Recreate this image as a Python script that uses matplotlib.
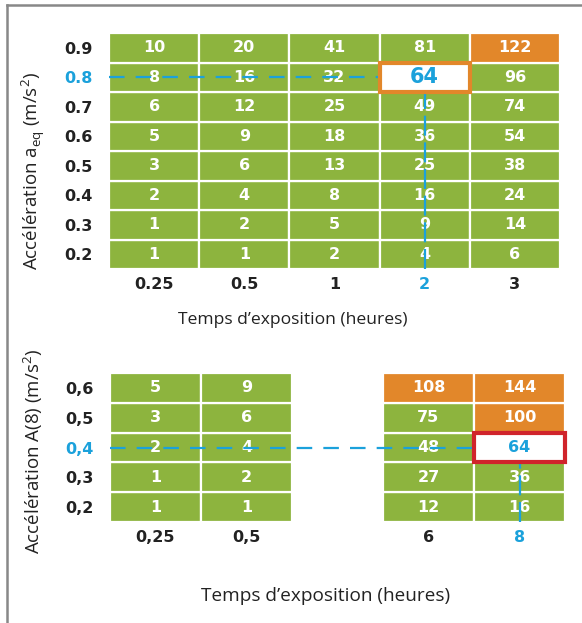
import matplotlib.pyplot as plt
from matplotlib.lines import Line2D
from matplotlib.patches import Rectangle

GREEN = '#8db43e'
ORANGE = '#e2872a'
BLUE = '#1ba1db'
RED = '#d0242b'
DARK = '#222222'

# top table: a_eq vs exposure time
top_hours = ['0.25', '0.5', '1', '2', '3']
top_acc = ['0.2', '0.3', '0.4', '0.5', '0.6', '0.7', '0.8', '0.9']
top_values = [
    [1, 1, 2, 4, 6],
    [1, 2, 5, 9, 14],
    [2, 4, 8, 16, 24],
    [3, 6, 13, 25, 38],
    [5, 9, 18, 36, 54],
    [6, 12, 25, 49, 74],
    [8, 16, 32, 64, 96],
    [10, 20, 41, 81, 122],
]
top_pick = (3, 6)  # column, row

# bottom table: A(8) vs exposure time
bot_hours = ['0,25', '0,5', '6', '8']
bot_slots = [0, 1, 3, 4]
bot_acc = ['0,2', '0,3', '0,4', '0,5', '0,6']
bot_values = [
    [1, 1, 12, 16],
    [1, 2, 27, 36],
    [2, 4, 48, 64],
    [3, 6, 75, 100],
    [5, 9, 108, 144],
]
bot_pick = (4, 2)

limit = 100

plt.rcParams['font.family'] = ['DejaVu Sans']
fig = plt.figure(figsize=(5.82, 6.23), dpi=100)

FS = 11.5


def draw_table(ax, xs, xlabels, ylabels, values, pick, box_color, pick_size, nslots):
    for r, row in enumerate(values):
        for c, v in enumerate(row):
            x = xs[c]
            if (x, r) == pick:
                continue
            col = ORANGE if v >= limit else GREEN
            ax.bar(x + 0.5, 1, bottom=r, width=1, color=col, edgecolor='white', linewidth=1.6, zorder=1)
            ax.text(x + 0.5, r + 0.5, str(v), color='white', fontsize=FS, fontweight='bold',
                    ha='center', va='center', zorder=3)
    px, py = pick
    pv = values[py][xs.index(px)]
    ax.add_patch(Rectangle((px, py), 1, 1, facecolor='white', edgecolor=box_color,
                           linewidth=3, zorder=5, clip_on=False))
    ax.text(px + 0.5, py + 0.5, str(pv), color=BLUE, fontsize=pick_size, fontweight='bold',
            ha='center', va='center', zorder=6)
    # guide lines
    ax.plot([0, px], [py + 0.5, py + 0.5], color=BLUE, lw=1.6, ls=(0, (7, 5)), zorder=4)
    ax.plot([px + 0.5, px + 0.5], [0, py], color=BLUE, lw=1.6, ls=(0, (9, 3)), zorder=4)

    ax.set_xlim(0, nslots)
    ax.set_ylim(0, len(values))
    ax.set_xticks([x + 0.5 for x in xs])
    ax.set_xticklabels(xlabels, fontsize=FS, fontweight='bold', color=DARK)
    ax.set_yticks([r + 0.5 for r in range(len(values))])
    ax.set_yticklabels(ylabels, fontsize=FS, fontweight='bold', color=DARK)
    ax.tick_params(length=0, pad=6)
    ax.tick_params(axis='y', pad=12)
    ax.get_xticklabels()[xs.index(px)].set_color(BLUE)
    ax.get_yticklabels()[py].set_color(BLUE)
    for s in ax.spines.values():
        s.set_visible(False)


ax1 = fig.add_axes([109 / 582, 1 - 269 / 623, 451 / 582, 236 / 623])
draw_table(ax1, list(range(5)), top_hours, top_acc, top_values, top_pick, ORANGE, 15, 5)

ax2 = fig.add_axes([110 / 582, 1 - 522 / 623, 455 / 582, 149 / 623])
draw_table(ax2, bot_slots, bot_hours, bot_acc, bot_values, bot_pick, RED, FS, 5)

fig.text(293 / 582, 1 - 320 / 623, 'Temps d\u2019exposition (heures)', fontsize=12.6,
         family=['Open Sans', 'DejaVu Sans'], color=DARK, ha='center', va='center')
fig.text(326 / 582, 1 - 596 / 623, 'Temps d\u2019exposition (heures)', fontsize=13.7,
         family=['Open Sans', 'DejaVu Sans'], color=DARK, ha='center', va='center')
fig.text(33 / 582, 1 - 171 / 623, r'Accélération a$_{\mathregular{eq}}$ (m/s$^{\mathregular{2}}$)',
         fontsize=13.5, family=['Open Sans', 'DejaVu Sans'], color=DARK, rotation=90,
         ha='center', va='center')
fig.text(33 / 582, 1 - 451 / 623, r'Accélération A(8) (m/s$^{\mathregular{2}}$)',
         fontsize=13.5, family=['Open Sans', 'DejaVu Sans'], color=DARK, rotation=90,
         ha='center', va='center')

# frame lines (top and left)
fig.add_artist(Line2D([7 / 582, 1], [1 - 5 / 623, 1 - 5 / 623], color='#888888', lw=1.8))
fig.add_artist(Line2D([7 / 582, 7 / 582], [0, 1 - 5 / 623], color='#888888', lw=1.8))

fig.savefig('out.png', dpi=100)
